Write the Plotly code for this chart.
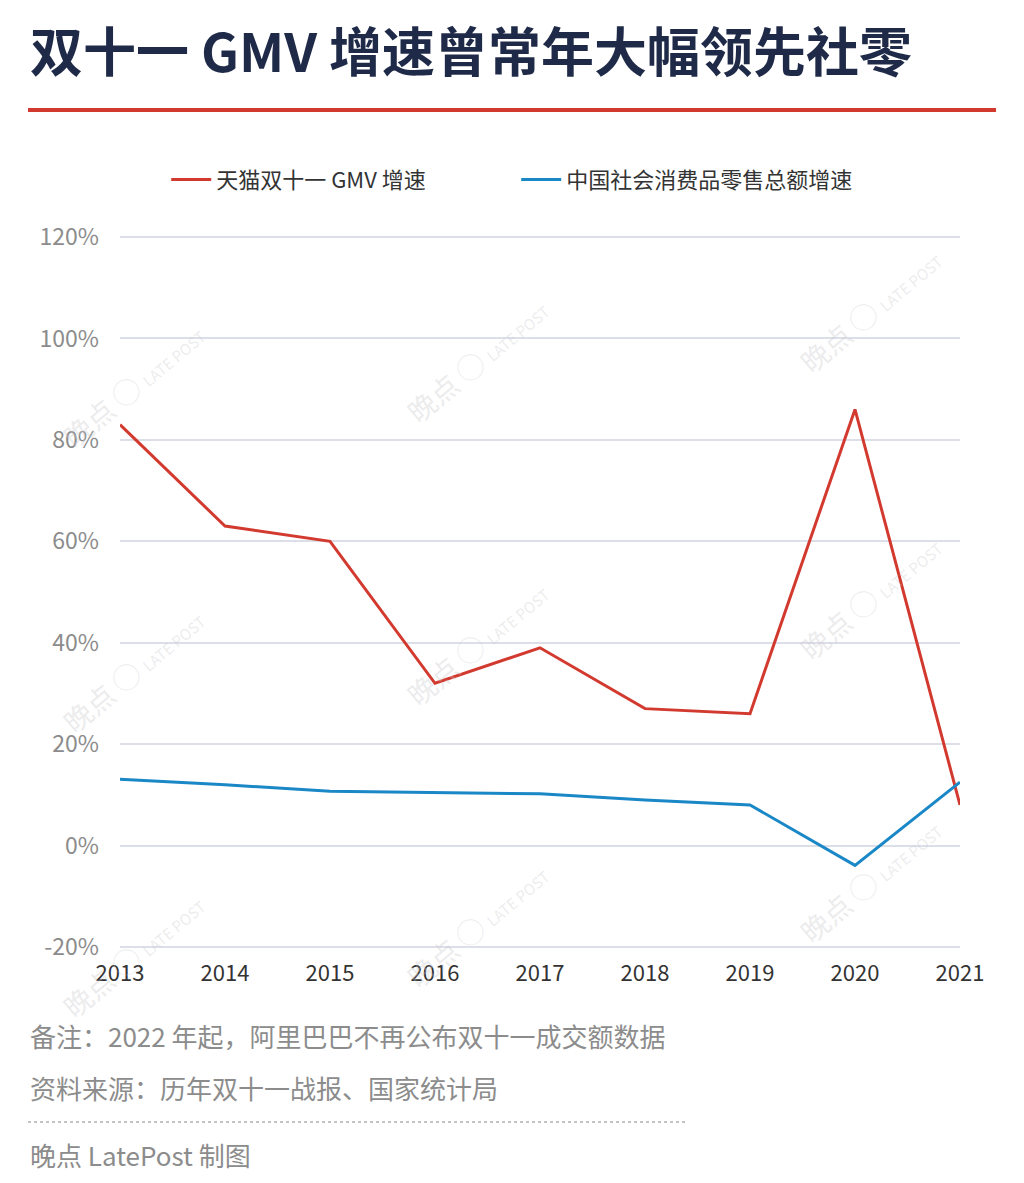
import plotly.graph_objects as go

years = [2013, 2014, 2015, 2016, 2017, 2018, 2019, 2020, 2021]
tmall_gmv_growth = [83, 63, 60, 32, 39, 27, 26, 86, 8]
retail_sales_growth = [13.1, 12.0, 10.7, 10.4, 10.2, 9.0, 8.0, -3.9, 12.5]

y_ticks = [-20, 0, 20, 40, 60, 80, 100, 120]
y_tick_labels = ["-20%", "0%", "20%", "40%", "60%", "80%", "100%", "120%"]

title_text = "双十一 GMV 增速曾常年大幅领先社零"
note_text = "备注：2022 年起，阿里巴巴不再公布双十一成交额数据"
source_text = "资料来源：历年双十一战报、国家统计局"
credit_text = "晚点 LatePost 制图"

FONT = "Noto Sans CJK SC"
RED = "#d33a2f"
BLUE = "#1a87c6"
GREY = "#8c8c8c"

fig = go.Figure()
fig.add_trace(go.Scatter(x=years, y=tmall_gmv_growth, mode="lines", name="天猫双十一 GMV 增速",
                         line=dict(color=RED, width=3)))
fig.add_trace(go.Scatter(x=years, y=retail_sales_growth, mode="lines", name="中国社会消费品零售总额增速",
                         line=dict(color=BLUE, width=3)))

# page body has an 8px margin, so margins are shifted by 8px
fig.update_layout(
    width=1024, height=1183,
    margin=dict(l=112, r=72, t=228, b=243),
    paper_bgcolor="white", plot_bgcolor="white",
    font=dict(family=FONT, color="#333333"),
    showlegend=True,
    legend=dict(orientation="h", x=0.055, y=1.079, xanchor="left", yanchor="middle",
                font=dict(size=22, color="#333333", family=FONT),
                entrywidth=295, entrywidthmode="pixels", itemwidth=40,
                bgcolor="rgba(0,0,0,0)"),
    xaxis=dict(range=[2013, 2021], tickvals=years, showgrid=False, zeroline=False,
               showline=False, tickfont=dict(size=22, color="#333333", family=FONT),
               ticks="", ticklabelstandoff=10, fixedrange=True),
    # small padding so the edge gridlines (120% / -20%) are still drawn
    yaxis=dict(range=[-20.2, 120.2], tickvals=y_ticks, ticktext=y_tick_labels, showgrid=True,
               gridcolor="#dcdee8", gridwidth=1.5, zeroline=False, showline=False,
               tickfont=dict(size=23, color=GREY, family=FONT),
               ticks="", ticklabelstandoff=20, fixedrange=True),
)

# faint watermarks
for wx, wy in [(133, 385), (477, 360), (870, 310), (133, 670), (477, 643), (870, 597),
               (133, 955), (477, 925), (870, 880)]:
    fig.add_annotation(text="晚点 ◯ <span style='font-size:15px'>LATE POST</span>",
                       xref="paper", yref="paper", x=(wx - 120) / 840, y=(948 - wy) / 712,
                       xanchor="center", yanchor="middle",
                       showarrow=False, textangle=-40,
                       font=dict(size=28, color="rgba(200,200,205,0.35)", family=FONT))

# title and rule
fig.add_annotation(text="<b>" + title_text + "</b>", xref="paper", yref="paper",
                   x=-0.1095, y=(948 - 49) / 712, xanchor="left", yanchor="middle",
                   showarrow=False, font=dict(size=53, color="#1e2a47", family=FONT))
fig.add_shape(type="line", xref="paper", yref="paper", x0=-0.1095, x1=1.0429,
              y0=(948 - 110) / 712, y1=(948 - 110) / 712,
              line=dict(color=RED, width=4))

# footer
for txt, ypix in [(note_text, 1035), (source_text, 1087), (credit_text, 1154)]:
    fig.add_annotation(text=txt, xref="paper", yref="paper", x=-0.1095, y=(948 - ypix) / 712,
                       xanchor="left", yanchor="middle", showarrow=False,
                       font=dict(size=26, color=GREY, family=FONT))
fig.add_shape(type="line", xref="paper", yref="paper", x0=-0.1095, x1=(685 - 120) / 840,
              y0=(948 - 1122) / 712, y1=(948 - 1122) / 712,
              line=dict(color="#b0b0b0", width=1.5, dash="dot"))

fig.write_html("out.html")
